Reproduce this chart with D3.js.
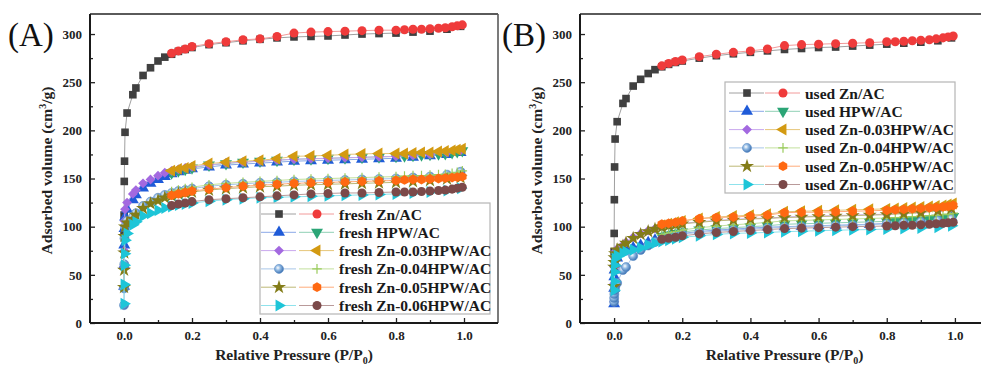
<!DOCTYPE html>
<html>
<head>
<meta charset="utf-8">
<script src="https://cdn.jsdelivr.net/npm/d3@7/dist/d3.min.js"></script>
<style>
  body { margin: 0; background: #fff; }
  svg { display: block; }
  text { font-family: "Liberation Serif", "Times New Roman", serif; }
</style>
</head>
<body>
<svg id="chart" width="981" height="369"></svg>
<script>
// relative pressures of adsorption and desorption branches
const pAds = [0.0001, 0.0003, 0.0008, 0.0015, 0.003, 0.009, 0.026, 0.035, 0.056, 0.078, 0.1, 0.12, 0.14, 0.16, 0.18, 0.2,
  0.25, 0.3, 0.35, 0.4, 0.45, 0.5, 0.55, 0.6, 0.65, 0.7, 0.75, 0.8, 0.85, 0.9, 0.95, 0.99];
const pDes = [0.995, 0.98, 0.965, 0.945, 0.925, 0.9, 0.875, 0.85, 0.825, 0.8, 0.75, 0.7, 0.65, 0.6, 0.55, 0.5,
  0.45, 0.4, 0.35, 0.3, 0.25, 0.2, 0.18, 0.16, 0.14];

const xTicks = [0, 0.2, 0.4, 0.6, 0.8, 1.0];
const xMinor = [0.1, 0.3, 0.5, 0.7, 0.9];
const yTicks = [0, 50, 100, 150, 200, 250, 300];
const yMinor = [25, 75, 125, 175, 225, 275];

const sampleNames = ["Zn/AC", "HPW/AC", "Zn-0.03HPW/AC", "Zn-0.04HPW/AC", "Zn-0.05HPW/AC", "Zn-0.06HPW/AC"];

// (A) fresh catalysts
const freshZnAds = [94, 112, 147, 168, 198, 218, 237, 244, 257, 265, 272, 276, 279, 282, 284, 286, 289, 291, 293, 294.5, 296, 297, 297.5, 298, 299, 300, 300.5, 301, 302, 303, 305, 308];
const freshZnDes = [309.5, 308.5, 307.5, 306.5, 306, 305.5, 305, 305, 304.5, 304, 304, 303.5, 303, 302.5, 302, 301, 297.5, 295, 294, 292, 290, 287, 284.5, 282.5, 280];
const freshHpwAds = [38, 60, 81, 98, 110, 118, 128, 133, 140, 145, 149, 152, 155, 157, 158.5, 160, 162, 164, 165, 166, 167, 168, 168.5, 169, 169.5, 170, 170.5, 171, 172, 173.5, 175, 177];
const freshHpwDes = [179, 178, 177, 176, 175.5, 175, 174.5, 174, 173.5, 173, 172.5, 172, 171.5, 171, 170.5, 170, 169, 168, 167, 165.5, 164, 161, 159.5, 158, 156];
const fresh003Ads = [36, 58, 75, 106, 118, 125, 134, 138, 145, 149, 153, 156, 158, 159.5, 161, 162, 164, 166, 167, 168, 169, 170, 170.5, 171, 171.5, 172, 172.5, 173, 174, 175, 177, 179];
const fresh003Des = [181, 180, 179, 178.5, 178, 177, 177, 176.5, 176, 176, 176, 175.5, 175, 174, 173.5, 173, 170.5, 169, 168, 167, 165.5, 163, 161, 160, 158];
const fresh004Ads = [18.5, 36, 61, 88, 100, 106, 110, 114, 121.5, 126, 130, 133, 135, 137, 138, 139.5, 142, 143.5, 144.5, 145.5, 146, 147, 147.5, 148, 148.5, 149, 149.5, 150, 151, 152, 154, 157];
const fresh004Des = [158, 156.5, 155.5, 154.5, 154, 153.5, 153, 153, 152.5, 152, 151.5, 151, 150.5, 150, 149.5, 149, 148, 147, 146, 145, 143.5, 141, 139.5, 138, 136.5];
const fresh005Ads = [37, 55, 73, 90, 100, 104, 108, 112, 119, 124, 127, 130, 132, 134, 135, 136, 138, 139.5, 140.5, 141.5, 142, 143, 143.5, 144, 144.5, 145, 145.5, 146, 147, 148, 149.5, 151];
const fresh005Des = [152, 151.5, 151, 150.5, 150, 149.5, 149, 149, 148.5, 148, 147.5, 147, 146.5, 146, 145.5, 145, 144, 143, 142, 140.5, 139, 137, 135.5, 134, 132.5];
const fresh006Ads = [20, 40, 60, 72, 86, 93, 102, 105, 111, 114, 117, 119.5, 121, 122.5, 123.5, 124.5, 126.5, 128, 129, 130, 130.5, 131, 131.5, 132, 132.5, 133, 133.5, 134, 135, 136, 137.5, 140];
const fresh006Des = [141, 140, 139, 138, 137.5, 137, 136.5, 136, 136, 136, 135.5, 135, 135, 134.5, 134, 133, 132, 131, 130, 129, 128, 126, 124.5, 123.5, 122];

// (B) used catalysts
const usedZnAds = [74, 93, 128, 162, 191, 209, 228, 233, 246, 253, 259, 263, 266, 268.5, 270.5, 272, 275, 277.5, 279.5, 281, 282.5, 284, 285, 286, 286.5, 287.5, 288.5, 289.5, 290.5, 291.5, 293, 296];
const usedZnDes = [298, 297, 296, 295, 294, 293.5, 293, 292.5, 292, 292, 291, 290.5, 290, 289.5, 289, 288, 284.5, 282.5, 281, 279, 276.5, 273, 271.5, 269.5, 267];
const usedHpwAds = [20, 36, 48, 55, 62, 67.5, 74, 76, 78, 80.5, 83.5, 86, 88, 90, 91.5, 93, 95, 96.5, 97.5, 98.5, 99.5, 100, 100.5, 101, 101.5, 102, 102.5, 103.5, 104.5, 105.5, 107, 109.5];
const usedHpwDes = [110.5, 109.5, 109, 108, 107.5, 107, 106.5, 106, 106, 105.5, 105, 104.5, 104, 103.5, 103, 102.5, 101, 100, 99, 98, 96.5, 94.5, 93, 91.5, 90];
const used003Ads = [22, 41, 58, 68, 74, 77, 81, 84, 89, 93, 96, 98, 100, 101.5, 102.5, 103.5, 105, 106.5, 107.5, 108.5, 109, 110, 110.5, 111, 111.5, 112, 112.5, 113, 114, 115, 117, 120];
const used003Des = [124, 123, 122, 121.5, 121, 120.5, 120, 119.5, 119, 118.5, 118, 117.5, 117, 116.5, 116, 115.5, 113, 112, 111, 110, 108.5, 106, 104.5, 103, 101.5];
const used004Ads = [22, 26, 30, 34, 37, 41.5, 55, 58, 69.5, 75.8, 80.5, 84, 86.9, 88.6, 90.3, 92.4, 94, 95.5, 96.5, 97.5, 98.5, 99.5, 100, 100.5, 101, 101.5, 102, 103, 104, 105, 106.5, 108];
const used004Des = [114, 113, 112.5, 112, 111.5, 111, 110.5, 110, 109.5, 109, 108.5, 108, 107.5, 107, 106.5, 106, 104.5, 103, 102, 100.5, 99, 96.5, 95, 93.5, 92];
const used005Ads = [38, 58, 63, 68, 72, 76, 80, 83, 88, 92, 95, 97.5, 99.5, 101, 102, 103, 104.5, 106, 107, 108, 108.5, 109.5, 110, 110.5, 111, 111.5, 112, 112.5, 113.5, 114.5, 116.5, 119];
const used005Des = [122, 121, 120.5, 120, 119.5, 119, 118.5, 118, 117.5, 117, 116.5, 116, 115.5, 115, 115, 114.5, 112, 111, 110, 109.5, 108.3, 106, 104.5, 103.5, 102.5];
const used006Ads = [34, 43, 53, 60, 67, 70, 72.5, 74, 76, 78, 81, 83, 84.5, 86, 87.5, 89, 90.5, 92, 93, 93.5, 94, 94.8, 95.3, 95.8, 96.3, 96.7, 97, 97.5, 98, 98.5, 99.5, 101];
const used006Des = [104.5, 104, 103.5, 103, 102.5, 102, 101.5, 101.5, 101, 100.7, 100.3, 100, 99.5, 99, 98.5, 98, 97, 96, 95, 94, 92.5, 90.5, 89, 88, 87];

const freshAds = [freshZnAds, freshHpwAds, fresh003Ads, fresh004Ads, fresh005Ads, fresh006Ads];
const freshDes = [freshZnDes, freshHpwDes, fresh003Des, fresh004Des, fresh005Des, fresh006Des];
const usedAds = [usedZnAds, usedHpwAds, used003Ads, used004Ads, used005Ads, used006Ads];
const usedDes = [usedZnDes, usedHpwDes, used003Des, used004Des, used005Des, used006Des];

// marker styles: [adsorption, desorption] per sample
const styles = [
  [{ shape: "square", color: "#404040", line: "#a0a0a0" }, { shape: "circle", color: "#ef3b3b", line: "#f29a9a" }],
  [{ shape: "triUp", color: "#1f5bd8", line: "#8aa8e8" }, { shape: "triDown", color: "#2ba576", line: "#8fd0b4" }],
  [{ shape: "diamond", color: "#a369e0", line: "#c9a8ee" }, { shape: "triLeft", color: "#d39a12", line: "#e6c67a" }],
  [{ shape: "sphere", color: "#6b9fd6", line: "#a9c6e8" }, { shape: "plus", color: "#9acb5c", line: "#c2e09c" }],
  [{ shape: "star", color: "#837c18", line: "#bdb876" }, { shape: "hex", color: "#ff6912", line: "#ffab7a" }],
  [{ shape: "triRight", color: "#1dc5d8", line: "#8fe2ec" }, { shape: "circle", color: "#7b4949", line: "#b99a9a" }]
];

const svg = d3.select("#chart");

const defs = svg.append("defs");
const grad = defs.append("radialGradient").attr("id", "sphere")
  .attr("cx", "38%").attr("cy", "38%").attr("r", "62%");
grad.append("stop").attr("offset", "0%").attr("stop-color", "#ffffff");
grad.append("stop").attr("offset", "45%").attr("stop-color", "#8fb8e2");
grad.append("stop").attr("offset", "100%").attr("stop-color", "#3f74b4");

function markerPath(shape) {
  switch (shape) {
    case "square": return { d: d3.symbol(d3.symbolSquare, 58)(), rot: 0 };
    case "circle":
    case "sphere": return { d: d3.symbol(d3.symbolCircle, 64)(), rot: 0 };
    case "triUp": return { d: d3.symbol(d3.symbolTriangle, 62)(), rot: 0 };
    case "triDown": return { d: d3.symbol(d3.symbolTriangle, 62)(), rot: 180 };
    case "triLeft": return { d: d3.symbol(d3.symbolTriangle, 62)(), rot: -90 };
    case "triRight": return { d: d3.symbol(d3.symbolTriangle, 62)(), rot: 90 };
    case "diamond": return { d: d3.symbol(d3.symbolSquare, 48)(), rot: 45 };
    case "star": return { d: d3.symbol(d3.symbolStar, 62)(), rot: 0 };
    case "plus": return { d: "M-4.8,0H4.8M0,-4.8V4.8", rot: 0 };
    case "hex": {
      const pts = d3.range(6).map(i => {
        const a = Math.PI / 6 + i * Math.PI / 3;
        return [4.9 * Math.cos(a), 4.9 * Math.sin(a)];
      });
      return { d: "M" + pts.join("L") + "Z", rot: 0 };
    }
  }
}

function drawMarker(g, st, px, py) {
  const m = markerPath(st.shape);
  const p = g.append("path")
    .attr("d", m.d)
    .attr("transform", `translate(${px},${py}) rotate(${m.rot})`);
  if (st.shape === "plus") {
    p.attr("fill", "none").attr("stroke", st.color).attr("stroke-width", 1.2);
  } else if (st.shape === "sphere") {
    p.attr("fill", "url(#sphere)").attr("stroke", "#5a8cc4").attr("stroke-width", 0.6);
  } else {
    p.attr("fill", st.color);
  }
}

function drawPanel(cfg) {
  const top = 14, bottom = 323;
  const x = d3.scaleLinear().domain([-0.1, 1.1]).range([cfg.left, cfg.right]);
  const y = d3.scaleLinear().domain([0, 320.8]).range([bottom, top]);

  const g = svg.append("g");
  const clipId = "clip" + cfg.label;
  defs.append("clipPath").attr("id", clipId)
    .append("rect").attr("x", cfg.left).attr("y", top - 6)
    .attr("width", cfg.right - cfg.left).attr("height", bottom - top + 6);

  const plot = g.append("g").attr("clip-path", `url(#${clipId})`);
  const line = d3.line().x(d => x(d[0])).y(d => y(d[1]));

  cfg.ads.forEach((vals, i) => {
    const adsPts = pAds.map((p, k) => [p, vals[k]]);
    const desPts = pDes.map((p, k) => [p, cfg.des[i][k]]);
    [[adsPts, styles[i][0]], [desPts, styles[i][1]]].forEach(([pts, st]) => {
      plot.append("path").datum(pts)
        .attr("fill", "none").attr("stroke", st.line).attr("stroke-width", 1)
        .attr("d", line);
      pts.forEach(d => drawMarker(plot, st, x(d[0]), y(d[1])));
    });
  });

  // axes (ticks pointing inward)
  const xAxis = g.append("g").attr("transform", `translate(0,${bottom})`)
    .call(d3.axisBottom(x).tickValues(xTicks).tickSizeInner(-5).tickSizeOuter(0)
      .tickPadding(8).tickFormat(d3.format(".1f")));
  g.append("g").attr("transform", `translate(0,${bottom})`)
    .call(d3.axisBottom(x).tickValues(xMinor).tickSizeInner(-3).tickSizeOuter(0).tickFormat(""))
    .call(a => a.select(".domain").remove())
    .call(a => a.selectAll("line").attr("stroke", "#222").attr("stroke-width", 1.3));

  const yAxis = g.append("g").attr("transform", `translate(${cfg.left},0)`)
    .call(d3.axisLeft(y).tickValues(yTicks).tickSizeInner(-5).tickSizeOuter(0).tickPadding(8));
  g.append("g").attr("transform", `translate(${cfg.left},0)`)
    .call(d3.axisLeft(y).tickValues(yMinor).tickSizeInner(-3).tickSizeOuter(0).tickFormat(""))
    .call(a => a.select(".domain").remove())
    .call(a => a.selectAll("line").attr("stroke", "#222").attr("stroke-width", 1.3));

  [xAxis, yAxis].forEach(a => {
    a.select(".domain").remove();
    a.selectAll("line").attr("stroke", "#222").attr("stroke-width", 1.3);
    a.selectAll("text").attr("fill", "#222").attr("font-size", 13).attr("font-weight", "bold")
      .attr("font-family", "'Liberation Serif', serif");
  });

  // frame
  g.append("line").attr("x1", cfg.left).attr("x2", cfg.right).attr("y1", top).attr("y2", top)
    .attr("stroke", "#5a5a5a").attr("stroke-width", 2.2);
  g.append("line").attr("x1", cfg.right).attr("x2", cfg.right).attr("y1", top).attr("y2", bottom)
    .attr("stroke", "#5a5a5a").attr("stroke-width", 1.6);
  g.append("line").attr("x1", cfg.left).attr("x2", cfg.right).attr("y1", bottom).attr("y2", bottom)
    .attr("stroke", "#1a1a1a").attr("stroke-width", 2);
  g.append("line").attr("x1", cfg.left).attr("x2", cfg.left).attr("y1", top).attr("y2", bottom)
    .attr("stroke", "#1a1a1a").attr("stroke-width", 2);

  // axis titles
  const xt = g.append("text")
    .attr("x", (x(0) + x(1)) / 2).attr("y", 360)
    .attr("text-anchor", "middle").attr("font-size", 15.5).attr("font-weight", "bold").attr("fill", "#222");
  xt.append("tspan").text("Relative Pressure (P/P");
  xt.append("tspan").attr("dy", 3.5).attr("font-size", 10).text("0");
  xt.append("tspan").attr("dy", -3.5).text(")");

  const yt = g.append("text")
    .attr("transform", `translate(${cfg.left - 38},${(top + bottom) / 2 + 2}) rotate(-90)`)
    .attr("text-anchor", "middle").attr("font-size", 15.5).attr("font-weight", "bold").attr("fill", "#222");
  yt.append("tspan").text("Adsorbed volume (cm");
  yt.append("tspan").attr("dy", -6).attr("font-size", 10).text("3");
  yt.append("tspan").attr("dy", 6).text("/g)");

  // panel label
  svg.append("text").attr("x", cfg.labelX).attr("y", 46)
    .attr("font-size", 33).attr("fill", "#111").text(`(${cfg.label})`);

  // legend
  const lg = g.append("g");
  lg.append("rect").attr("x", cfg.legX).attr("y", cfg.legY).attr("width", 230).attr("height", 111)
    .attr("fill", "#fff").attr("stroke", "#b5b5b5").attr("stroke-width", 1.2);
  sampleNames.forEach((name, i) => {
    const ry = cfg.legY + 11 + i * 18.3;
    const m1 = cfg.legX + cfg.m1, m2 = cfg.legX + cfg.m2;
    lg.append("line").attr("x1", m1 - 18).attr("x2", m1 + 17).attr("y1", ry).attr("y2", ry)
      .attr("stroke", styles[i][0].line).attr("stroke-width", 1);
    lg.append("line").attr("x1", m2 - 18).attr("x2", m2 + 17).attr("y1", ry).attr("y2", ry)
      .attr("stroke", styles[i][1].line).attr("stroke-width", 1);
    drawMarker(lg, styles[i][0], m1, ry);
    drawMarker(lg, styles[i][1], m2, ry);
    lg.append("text").attr("x", cfg.legX + cfg.tx).attr("y", ry + 5.5)
      .attr("font-size", 15.5).attr("font-weight", "bold").attr("fill", "#1a1a1a")
      .text(cfg.prefix + " " + name);
  });
}

drawPanel({ label: "A", left: 90, right: 498, labelX: 8, ads: freshAds, des: freshDes,
  legX: 260, legY: 203, m1: 19, m2: 57, tx: 79, prefix: "fresh" });
drawPanel({ label: "B", left: 580, right: 989, labelX: 502, ads: usedAds, des: usedDes,
  legX: 725, legY: 82, m1: 22, m2: 58, tx: 80, prefix: "used" });
</script>
</body>
</html>
